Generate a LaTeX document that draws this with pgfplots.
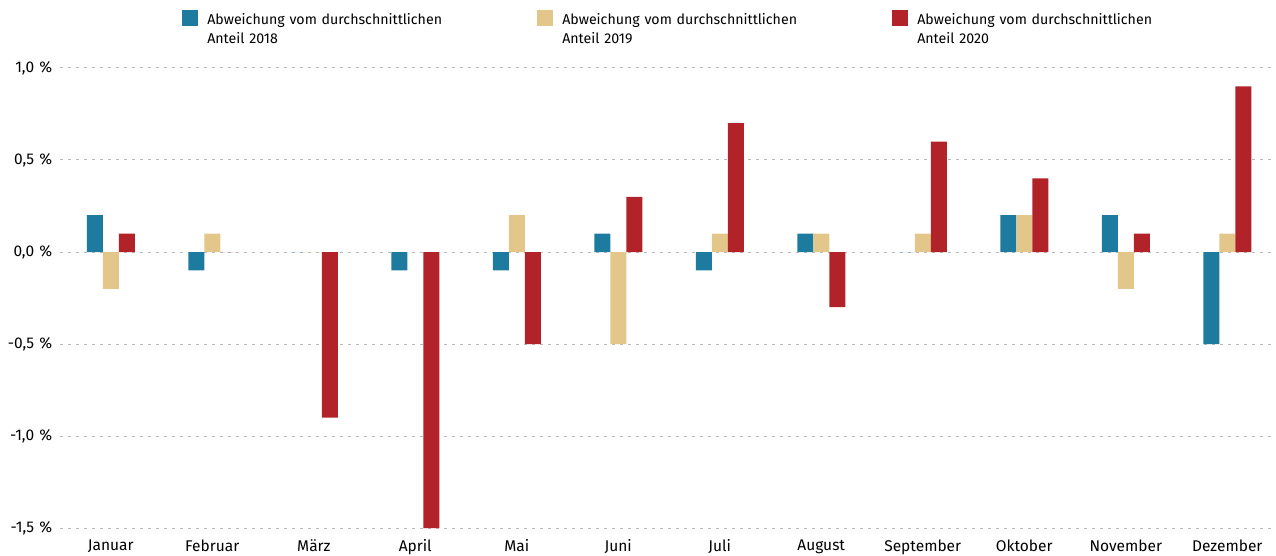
\documentclass[border=0pt]{standalone}
\usepackage{pgfplots}
\pgfplotsset{compat=1.18}
\usepackage{fontspec}
\setmainfont{Fira Sans}
\definecolor{cBlue}{HTML}{1E7BA0}
\definecolor{cBeige}{HTML}{E3C68A}
\definecolor{cRed}{HTML}{B12328}
\begin{document}
\fontsize{14pt}{19pt}\selectfont
\begin{tikzpicture}
\begin{axis}[
  at={(60pt,27pt)}, anchor=south west,
  scale only axis, width=1218pt, height=460pt,
  xmin=-0.5, xmax=11.5, ymin=-1.5, ymax=1.0,
  clip=false,
  ybar=0pt, bar width=16pt,
  axis line style={draw=none},
  major tick length=0pt,
  ytick={-1.5,-1,-0.5,0,0.5,1},
  yticklabels={{-1,5\,\,\%},{-1,0\,\,\%},{-0,5\,\,\%},{0,0\,\,\%},{0,5\,\,\%},{1,0\,\,\%}},
  xtick={0,...,11},
  xticklabels={Januar,Februar,März,April,Mai,Juni,Juli,August,September,Oktober,November,Dezember},
  ymajorgrids,
  grid style={gray!55, line width=1pt, dash pattern=on 3pt off 5pt},
  yticklabel style={font=\fontsize{15.5pt}{18pt}\selectfont, xshift=-3pt},
  xticklabel style={font=\fontsize{15.5pt}{18pt}\selectfont, yshift=-7pt},
  legend cell align=left,
  legend columns=3,
  legend style={at={(0.1002,1.126)}, anchor=north west, draw=none, fill=none, inner sep=0pt,
    nodes={inner sep=0pt, text width=330pt, align=left, anchor=base west, font=\fontsize{14.2pt}{19pt}\selectfont},
    /tikz/every odd column/.append style={column sep=9pt}},
  legend image code/.code={\fill[#1] (0pt,-2pt) rectangle (16pt,14pt);},
]
\addplot[fill=cBlue, draw=none] coordinates {(0,0.2) (1,-0.1) (2,0) (3,-0.1) (4,-0.1) (5,0.1) (6,-0.1) (7,0.1) (8,0) (9,0.2) (10,0.2) (11,-0.5)};
\addlegendentry{Abweichung vom durchschnittlichen\\Anteil 2018}
\addplot[fill=cBeige, draw=none] coordinates {(0,-0.2) (1,0.1) (2,0) (3,0) (4,0.2) (5,-0.5) (6,0.1) (7,0.1) (8,0.1) (9,0.2) (10,-0.2) (11,0.1)};
\addlegendentry{Abweichung vom durchschnittlichen\\Anteil 2019}
\addplot[fill=cRed, draw=none] coordinates {(0,0.1) (1,0) (2,-0.9) (3,-1.5) (4,-0.5) (5,0.3) (6,0.7) (7,-0.3) (8,0.6) (9,0.4) (10,0.1) (11,0.9)};
\addlegendentry{Abweichung vom durchschnittlichen\\Anteil 2020}
\end{axis}
\pgfresetboundingbox
\path[use as bounding box] (0,0) rectangle (1276pt,555pt);
\end{tikzpicture}
\end{document}
